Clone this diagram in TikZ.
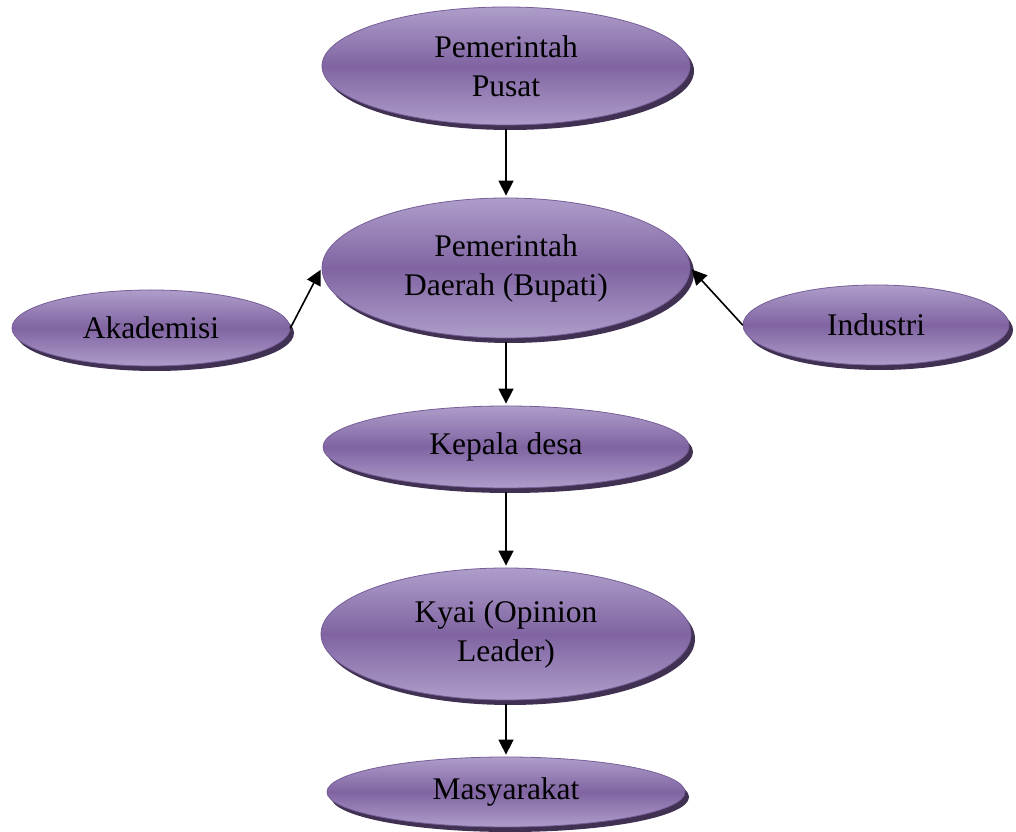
\documentclass[tikz,border=0pt]{standalone}
\usepackage{fontspec}
\setmainfont{Liberation Serif}
\usetikzlibrary{arrows.meta,shapes.geometric,shadows}
\definecolor{DiagramPurple}{RGB}{128,100,162}
\definecolor{DiagramLilac}{RGB}{174,158,202}
\definecolor{DiagramShadow}{RGB}{64,49,82}
\definecolor{DiagramEdge}{RGB}{118,94,152}

\begin{document}
\begin{tikzpicture}[x=1bp,y=1bp,line cap=round,line join=round]
  \path[use as bounding box] (0,0) rectangle (1016,832);
  \fill[white] (0,0) rectangle (1016,832);

  \tikzset{
    oval/.style={ellipse,inner sep=0pt,align=center,draw=DiagramEdge,line width=0.8bp,
      top color=DiagramLilac,bottom color=DiagramLilac,middle color=DiagramPurple,
      drop shadow={shadow xshift=4bp,shadow yshift=-5bp,fill=DiagramShadow,opacity=1},
      font=\fontsize{31.5bp}{39bp}\selectfont},
    flow/.style={-{Triangle[length=15bp,width=15bp]},line width=1.6bp,black,
      shorten <=4bp,shorten >=2bp},
  }

  % nodes
  \node[oval,minimum width=368bp,minimum height=118bp] (pusat) at (506,766)
    {Pemerintah\\Pusat};
  \node[oval,minimum width=368bp,minimum height=140bp] (daerah) at (506,564)
    {Pemerintah\\Daerah (Bupati)};
  \node[oval,minimum width=278bp,minimum height=76bp] (akademisi) at (151,504)
    {Akademisi};
  \node[oval,minimum width=266bp,minimum height=80bp] (industri) at (876,507)
    {Industri};
  \node[oval,minimum width=366bp,minimum height=82bp] (kepala) at (506,385)
    {Kepala desa};
  \node[oval,minimum width=370bp,minimum height=132bp] (kyai) at (506,198)
    {Kyai (Opinion\\Leader)};
  \node[oval,minimum width=358bp,minimum height=70bp] (masyarakat) at (506,40)
    {Masyarakat};

  % arrows
  \draw[flow] (pusat) -- (daerah);
  \draw[flow] (daerah) -- (kepala);
  \draw[flow] (kepala) -- (kyai);
  \draw[flow] (kyai) -- (masyarakat);
  \draw[flow,shorten <=0bp] (akademisi.east) -- (daerah.west);
  \draw[flow,shorten <=0bp] (industri.west) -- (daerah.east);
\end{tikzpicture}
\end{document}
